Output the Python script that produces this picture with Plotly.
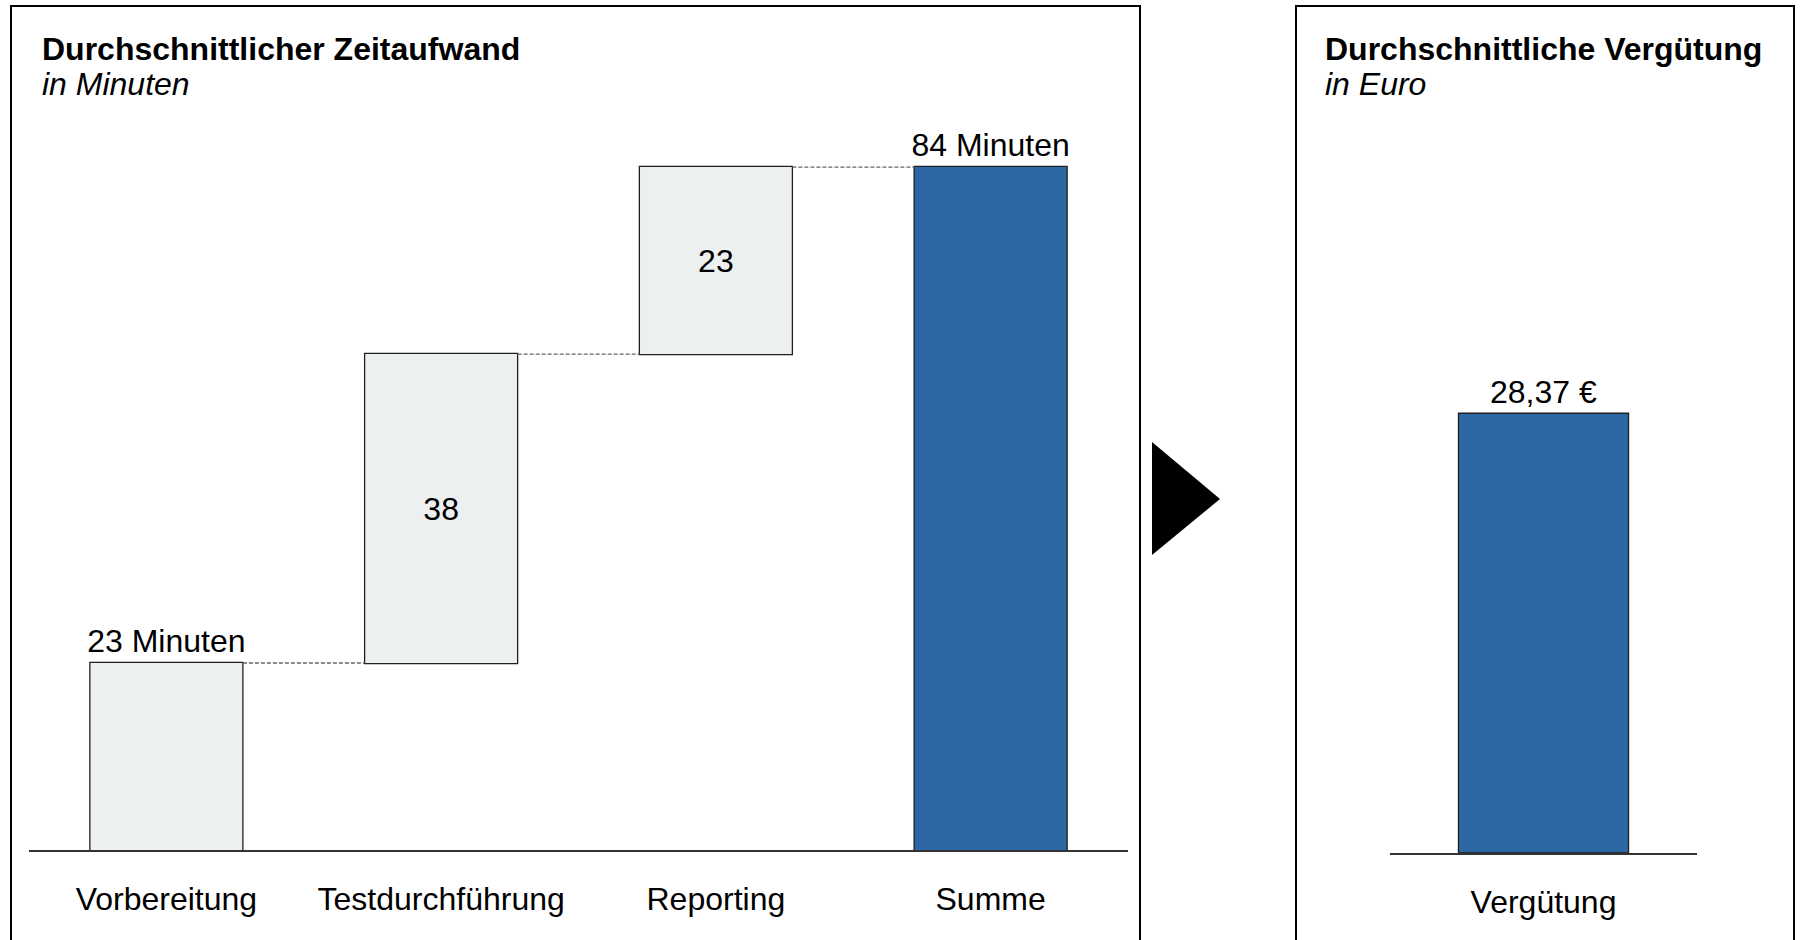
"""Zeitaufwand (Wasserfall) und Vergütung, zwei Kästen nebeneinander"""

import plotly.graph_objects as go

W, H = 1801, 940

# Zeitaufwand in Minuten
steps = ["Vorbereitung", "Testdurchführung", "Reporting", "Summe"]
step_minutes = [23, 38, 23, None]
step_measure = ["relative", "relative", "relative", "total"]
step_labels = ["23 Minuten", "38", "23", "84 Minuten"]
step_textpos = ["outside", "inside", "inside", "outside"]

# Vergütung in Euro
pay_cat = ["Vergütung"]
pay_euro = [28.37]
pay_labels = ["28,37 €"]

FONT = "Arial, Liberation Sans, sans-serif"
GREY = "#EDF0F0"
BLUE = "#2D68A4"
EDGE = "#1f1f1f"


def px_x(x):
    # screen pixel -> paper
    return x / W


def px_y(y):
    return 1 - y / H


fig = go.Figure()

fig.add_trace(
    go.Waterfall(
        x=steps,
        y=step_minutes,
        measure=step_measure,
        text=step_labels,
        textposition=step_textpos,
        insidetextanchor="middle",
        textfont=dict(family=FONT, size=32, color="black"),
        insidetextfont=dict(family=FONT, size=32, color="black"),
        outsidetextfont=dict(family=FONT, size=32, color="black"),
        constraintext="none",
        cliponaxis=False,
        increasing=dict(marker=dict(color=GREY, line=dict(color=EDGE, width=1.3))),
        totals=dict(marker=dict(color=BLUE, line=dict(color=EDGE, width=1.3))),
        connector=dict(mode="between", line=dict(color="#666666", width=1.3, dash="4px,2px")),
        hoverinfo="skip",
        xaxis="x",
        yaxis="y",
    )
)

fig.add_trace(
    go.Bar(
        x=pay_cat,
        y=pay_euro,
        text=pay_labels,
        textposition="outside",
        textfont=dict(family=FONT, size=32, color="black"),
        constraintext="none",
        cliponaxis=False,
        marker=dict(color=BLUE, line=dict(color=EDGE, width=1.3)),
        hoverinfo="skip",
        xaxis="x2",
        yaxis="y2",
    )
)

axis_common = dict(
    showline=True,
    linecolor="#333333",
    linewidth=1.5,
    showgrid=False,
    zeroline=False,
    ticks="outside",
    ticklen=20,
    tickcolor="rgba(0,0,0,0)",
    tickfont=dict(family=FONT, size=32, color="black"),
    fixedrange=True,
)

fig.update_layout(
    width=W,
    height=H,
    margin=dict(l=0, r=0, t=0, b=0),
    paper_bgcolor="white",
    plot_bgcolor="rgba(0,0,0,0)",
    showlegend=False,
    waterfallgap=0.443,
    bargap=0.446,
    font=dict(family=FONT, size=32, color="black"),
    xaxis=dict(domain=[px_x(29), px_x(1128)], range=[-0.5, 3.5], anchor="y", **axis_common),
    yaxis=dict(domain=[px_y(850), px_y(37)], range=[0, 100], visible=False, fixedrange=True),
    xaxis2=dict(domain=[px_x(1390), px_x(1697)], range=[-0.5, 0.5], anchor="y2", **axis_common),
    yaxis2=dict(domain=[px_y(853), px_y(78)], range=[0, 50], visible=False, fixedrange=True),
)

# Kastenrahmen
for x0, x1 in [(11, 1140), (1296, 1794)]:
    fig.add_shape(
        type="rect",
        xref="paper",
        yref="paper",
        x0=px_x(x0),
        x1=px_x(x1),
        y0=-0.05,
        y1=px_y(6),
        line=dict(color="black", width=2),
        fillcolor="rgba(0,0,0,0)",
        layer="above",
    )

# Pfeil zwischen den Kästen
fig.add_shape(
    type="path",
    xref="paper",
    yref="paper",
    path=f"M {px_x(1152)} {px_y(442)} L {px_x(1220)} {px_y(499)} L {px_x(1152)} {px_y(555)} Z",
    fillcolor="black",
    line=dict(color="black", width=0),
)

# Überschriften
for x, title, sub in [(40, "Durchschnittlicher Zeitaufwand", "in Minuten"), (1323, "Durchschnittliche Vergütung", "in Euro")]:
    fig.add_annotation(
        x=px_x(x), y=px_y(49), xref="paper", yref="paper",
        text=f"<b>{title}</b>", showarrow=False, xanchor="left", yanchor="middle",
        font=dict(family=FONT, size=32, color="black"),
    )
    fig.add_annotation(
        x=px_x(x), y=px_y(84), xref="paper", yref="paper",
        text=f"<i>{sub}</i>", showarrow=False, xanchor="left", yanchor="middle",
        font=dict(family=FONT, size=32, color="black"),
    )

# no page margin / scrollbars so the figure fills the window exactly
fig.write_html(
    "out.html",
    config={"displayModeBar": False},
    post_script="document.body.style.margin='0px';document.documentElement.style.overflow='hidden';",
)
